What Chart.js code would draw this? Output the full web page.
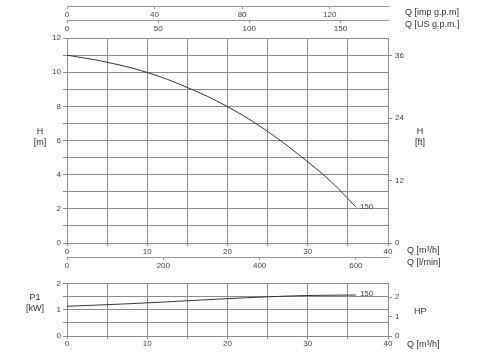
<!DOCTYPE html>
<html>
<head>
<meta charset="utf-8">
<script src="https://cdn.jsdelivr.net/npm/chart.js@4.4.0/dist/chart.umd.min.js"></script>
<style>
  body { margin: 0; background: #fff; width: 480px; height: 353px; position: relative; overflow: hidden;
         font-family: "Liberation Sans", Arial, sans-serif; color: #333; }
  canvas { position: absolute; left: 0; }
  .lbl { position: absolute; font-size: 9px; line-height: 11px; white-space: nowrap; }
  .c { text-align: center; width: 40px; }
</style>
</head>
<body>
<canvas id="topAxes" width="480" height="38" style="top:0"></canvas>
<canvas id="headChart" width="480" height="245" style="top:30px"></canvas>
<canvas id="powerChart" width="480" height="77" style="top:276px"></canvas>

<div class="lbl" style="left:405px;top:7px">Q [imp g.p.m]</div>
<div class="lbl" style="left:405px;top:19px">Q [US g.p.m.]</div>
<div class="lbl c" style="left:20px;top:126px">H<br>[m]</div>
<div class="lbl c" style="left:400px;top:126px">H<br>[ft]</div>
<div class="lbl" style="left:407px;top:245px">Q [m³/h]</div>
<div class="lbl" style="left:407px;top:257px">Q [l/min]</div>
<div class="lbl c" style="left:15px;top:292px">P1<br>[kW]</div>
<div class="lbl" style="left:414px;top:306px">HP</div>
<div class="lbl" style="left:407px;top:339px">Q [m³/h]</div>

<script>
// Pump curve data
const curveLabel = "150";
const qH = [0, 5, 10, 15, 20, 25, 30, 33, 36];
const hVals = [11.0, 10.58, 9.98, 9.1, 7.98, 6.53, 4.75, 3.55, 2.1];
const qP = [0, 5, 10, 15, 20, 25, 30, 36];
const pVals = [1.14, 1.2, 1.27, 1.35, 1.43, 1.5, 1.55, 1.57];

// Axis ranges and ticks
const qMax = 40;
const qGrid = [0, 5, 10, 15, 20, 25, 30, 35, 40];
const qLabels = [0, 10, 20, 30, 40];
const hGrid = [0, 1, 2, 3, 4, 5, 6, 7, 8, 9, 10, 11, 12];
const hLabels = [0, 2, 4, 6, 8, 10, 12];
const ftTicks = [0, 12, 24, 36];
const lminTicks = [0, 200, 400, 600];
const impTicks = [0, 40, 80, 120];
const usTicks = [0, 50, 100, 150];
const pGrid = [0, 0.5, 1, 1.5, 2];
const pLabels = [0, 1, 2];
const hpTicks = [0, 1, 2];

// Unit conversions for secondary axes
const ftMax = 12 * 3.28084;
const lminMax = qMax * 1000 / 60;
const impMax = lminMax / 4.54609;
const usMax = lminMax / 3.78541;
const hpMax = 2 * 1.34102;

const gridColor = '#8c8c8c';
const tickFont = { family: 'Liberation Sans, Arial, sans-serif', size: 8 };
const tickColor = '#444';

function fixTicks(list) {
  return scale => { scale.ticks = list.map(v => ({ value: v })); };
}
function only(list) {
  return v => list.includes(v) ? String(v) : '';
}

const endLabel = {
  id: 'endLabel',
  afterDatasetsDraw(chart, args, opts) {
    const meta = chart.getDatasetMeta(0);
    const p = meta.data[meta.data.length - 1];
    const ctx = chart.ctx;
    ctx.save();
    ctx.font = '8px "Liberation Sans", Arial, sans-serif';
    ctx.fillStyle = '#444';
    ctx.textBaseline = 'middle';
    ctx.fillText(curveLabel, p.x + 4, p.y + (opts.dy || 0));
    ctx.restore();
  }
};

// Top flow axes (imp / US gallons per minute)
new Chart(document.getElementById('topAxes'), {
  type: 'line',
  data: { datasets: [] },
  options: {
    responsive: false, animation: false,
    layout: { padding: { left: 67, right: 92, top: 5, bottom: 0 } },
    plugins: { legend: { display: false }, tooltip: { enabled: false } },
    scales: {
      y: { display: false, min: 0, max: 1 },
      imp: {
        type: 'linear', position: 'bottom', weight: 0, min: 0, max: impMax,
        afterBuildTicks: fixTicks(impTicks),
        afterFit: s => { s.height = 14; },
        grid: { drawOnChartArea: false, tickLength: 3, color: '#999' },
        border: { color: '#999' },
        ticks: { font: tickFont, color: tickColor, padding: 1, maxRotation: 0 }
      },
      us: {
        type: 'linear', position: 'bottom', weight: 1, min: 0, max: usMax,
        afterBuildTicks: fixTicks(usTicks),
        afterFit: s => { s.height = 18; },
        grid: { drawOnChartArea: false, tickLength: 3, color: '#999' },
        border: { color: '#999' },
        ticks: { font: tickFont, color: tickColor, padding: 1, maxRotation: 0 }
      }
    }
  }
});

// Head curve
new Chart(document.getElementById('headChart'), {
  type: 'line',
  data: {
    datasets: [{
      data: qH.map((q, i) => ({ x: q, y: hVals[i] })),
      borderColor: '#333', borderWidth: 1, pointRadius: 0,
      tension: 0.4, xAxisID: 'x', yAxisID: 'y'
    }]
  },
  plugins: [endLabel],
  options: {
    responsive: false, animation: false,
    layout: { padding: { left: 0, right: 0, top: 8, bottom: 0 } },
    plugins: { legend: { display: false }, tooltip: { enabled: false }, endLabel: { dy: 0 } },
    scales: {
      x: {
        type: 'linear', position: 'bottom', weight: 0, min: 0, max: qMax,
        afterBuildTicks: fixTicks(qGrid),
        afterFit: s => { s.height = 14; },
        grid: { color: gridColor, tickLength: 3 },
        border: { color: gridColor },
        ticks: { font: tickFont, color: tickColor, padding: 1, maxRotation: 0, callback: only(qLabels) }
      },
      lmin: {
        type: 'linear', position: 'bottom', weight: 1, min: 0, max: lminMax,
        afterBuildTicks: fixTicks(lminTicks),
        afterFit: s => { s.height = 18; },
        grid: { drawOnChartArea: false, tickLength: 3, color: '#999' },
        border: { color: '#999' },
        ticks: { font: tickFont, color: tickColor, padding: 1, maxRotation: 0 }
      },
      y: {
        type: 'linear', position: 'left', min: 0, max: 12,
        afterBuildTicks: fixTicks(hGrid),
        afterFit: s => { s.width = 67; },
        grid: { color: gridColor, tickLength: 4 },
        border: { color: gridColor },
        ticks: { font: tickFont, color: tickColor, padding: 2, callback: only(hLabels) }
      },
      ft: {
        type: 'linear', position: 'right', min: 0, max: ftMax,
        afterBuildTicks: fixTicks(ftTicks),
        afterFit: s => { s.width = 92; },
        grid: { drawOnChartArea: false, color: gridColor, tickLength: 4 },
        border: { color: gridColor },
        ticks: { font: tickFont, color: tickColor, padding: 3 }
      }
    }
  }
});

// Power curve
new Chart(document.getElementById('powerChart'), {
  type: 'line',
  data: {
    datasets: [{
      data: qP.map((q, i) => ({ x: q, y: pVals[i] })),
      borderColor: '#333', borderWidth: 1, pointRadius: 0,
      tension: 0.4, xAxisID: 'x', yAxisID: 'y'
    }]
  },
  plugins: [endLabel],
  options: {
    responsive: false, animation: false,
    layout: { padding: { left: 0, right: 0, top: 7, bottom: 0 } },
    plugins: { legend: { display: false }, tooltip: { enabled: false }, endLabel: { dy: -1 } },
    scales: {
      x: {
        type: 'linear', position: 'bottom', min: 0, max: qMax,
        afterBuildTicks: fixTicks(qGrid),
        afterFit: s => { s.height = 17; },
        grid: { color: gridColor, tickLength: 3 },
        border: { color: gridColor },
        ticks: { font: tickFont, color: tickColor, padding: 0, maxRotation: 0, callback: only(qLabels) }
      },
      y: {
        type: 'linear', position: 'left', min: 0, max: 2,
        afterBuildTicks: fixTicks(pGrid),
        afterFit: s => { s.width = 67; },
        grid: { color: gridColor, tickLength: 4 },
        border: { color: gridColor },
        ticks: { font: tickFont, color: tickColor, padding: 2, callback: only(pLabels) }
      },
      hp: {
        type: 'linear', position: 'right', min: 0, max: hpMax,
        afterBuildTicks: fixTicks(hpTicks),
        afterFit: s => { s.width = 92; },
        grid: { drawOnChartArea: false, color: gridColor, tickLength: 4 },
        border: { color: gridColor },
        ticks: { font: tickFont, color: tickColor, padding: 3 }
      }
    }
  }
});
</script>
</body>
</html>
